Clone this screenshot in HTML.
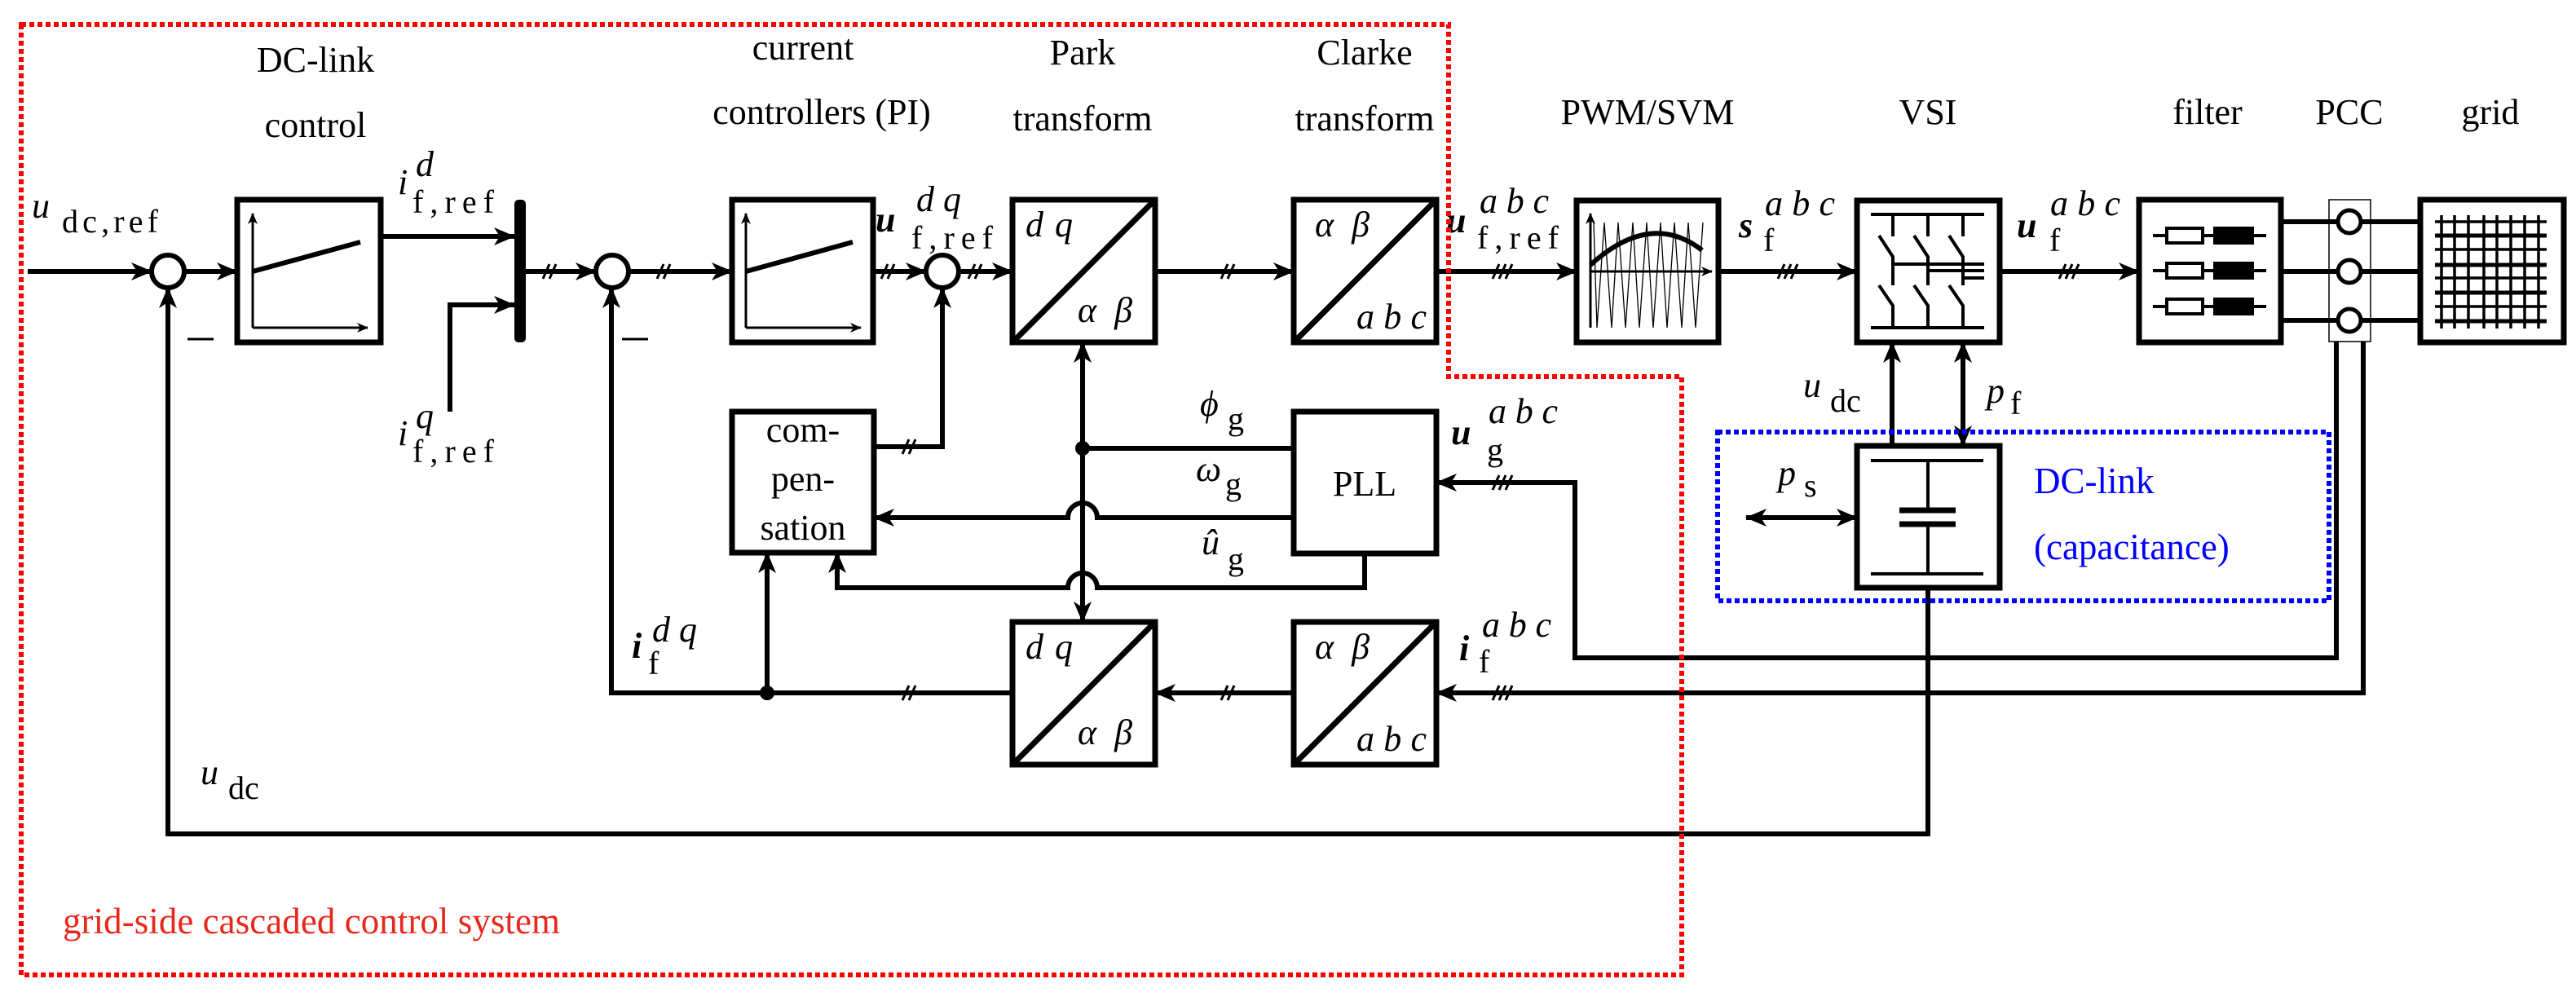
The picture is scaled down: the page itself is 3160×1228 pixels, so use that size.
<!DOCTYPE html>
<html><head><meta charset="utf-8"><style>
html,body{margin:0;padding:0;background:#fff;font-family:"Liberation Serif","DejaVu Serif",serif;}
svg{display:block;font-family:"Liberation Serif","DejaVu Serif",serif;}
svg text{font-family:"Liberation Serif","DejaVu Serif",serif;}
.t{font-size:44px;text-anchor:middle;}
.m{font-size:44px;font-style:italic;}
.mb{font-size:44px;font-style:italic;font-weight:bold;}
.s{font-size:40px;}
</style></head><body>
<svg width="3160" height="1228" viewBox="0 0 3160 1228" xmlns="http://www.w3.org/2000/svg" font-family="'Liberation Serif', 'DejaVu Serif', serif">
<defs>
<marker id="a" markerUnits="userSpaceOnUse" markerWidth="26" markerHeight="22" viewBox="0 0 26 22" refX="25" refY="11" orient="auto-start-reverse"><path d="M0,0 L26,11 L0,22 L7,11 z" fill="#000"/></marker>
<marker id="sa" markerUnits="userSpaceOnUse" markerWidth="14" markerHeight="12" viewBox="0 0 14 12" refX="13" refY="6" orient="auto"><path d="M0,0 L14,6 L0,12 L4,6 z" fill="#000"/></marker>
</defs>
<g fill="none" stroke="#000" stroke-width="6">
<path d="M34,333 H186" marker-end="url(#a)"/>
<circle cx="206" cy="333" r="20" fill="#fff"/>
<path d="M226,333 H291" marker-end="url(#a)"/>
<rect x="291" y="245" width="176" height="175" stroke-width="7"/>
<path d="M467,290 H631" marker-end="url(#a)"/>
<path d="M552,505 V374 H631" marker-end="url(#a)"/>
<path d="M645,333 H731" marker-end="url(#a)"/>
<circle cx="751" cy="333" r="20" fill="#fff"/>
<path d="M771,333 H898" marker-end="url(#a)"/>
<rect x="898" y="245" width="173" height="175" stroke-width="7"/>
<path d="M1071,333 H1136" marker-end="url(#a)"/>
<circle cx="1156" cy="333" r="20" fill="#fff"/>
<path d="M1176,333 H1242" marker-end="url(#a)"/>
<rect x="1242" y="245" width="175" height="175" stroke-width="7"/>
<path d="M1242,420 L1417,245" stroke-width="7"/>
<path d="M1417,333 H1587" marker-end="url(#a)"/>
<rect x="1587" y="245" width="175" height="175" stroke-width="7"/>
<path d="M1587,420 L1762,245" stroke-width="7"/>
<path d="M1762,333 H1934" marker-end="url(#a)"/>
<rect x="1934" y="246" width="174" height="174" stroke-width="7"/>
<path d="M2108,333 H2278" marker-end="url(#a)"/>
<rect x="2278" y="246" width="175" height="174" stroke-width="7"/>
<path d="M2453,333 H2624" marker-end="url(#a)"/>
<rect x="2624" y="245" width="174" height="175" stroke-width="7"/>
<path d="M2798,272 H2969 M2798,333 H2969 M2798,393 H2969"/>
<rect x="2969" y="245" width="176" height="175" stroke-width="7"/>

<rect x="898" y="505" width="174" height="173" stroke-width="7"/>
<path d="M1072,548 H1156 V353" marker-end="url(#a)"/>
<path d="M1328,550 V420" marker-end="url(#a)"/>
<path d="M1328,550 V763" marker-end="url(#a)"/>
<path d="M1587,550 H1328"/>
<path d="M1587,635 H1346 A18,18 0 0 0 1310,635 H1072" marker-end="url(#a)"/>
<path d="M1674,679 V721 H1346 A18,18 0 0 0 1310,721 H1027 V678" marker-end="url(#a)"/>
<rect x="1587" y="505" width="175" height="174" stroke-width="7"/>
<rect x="1242" y="763" width="175" height="175" stroke-width="7"/>
<path d="M1242,938 L1417,763" stroke-width="7"/>
<rect x="1587" y="763" width="175" height="175" stroke-width="7"/>
<path d="M1587,938 L1762,763" stroke-width="7"/>
<path d="M2899,419 V850 H1762" marker-end="url(#a)"/>
<path d="M1587,850 H1417" marker-end="url(#a)"/>
<path d="M1242,850 H750 V353" marker-end="url(#a)"/>
<path d="M941,850 V678" marker-end="url(#a)"/>
<path d="M2866,419 V807 H1932 V592 H1762" marker-end="url(#a)"/>
<path d="M2365,721 V1023 H206 V353" marker-end="url(#a)"/>
<rect x="2278" y="547" width="175" height="174" stroke-width="7"/>
<path d="M2321,547 V420" marker-end="url(#a)"/>
<path d="M2408,547 V420" marker-start="url(#a)" marker-end="url(#a)"/>
<path d="M2142,635 H2278" marker-start="url(#a)" marker-end="url(#a)"/>
</g>
<rect x="631" y="245" width="14" height="175" rx="5" fill="#000"/>
<circle cx="1328" cy="550" r="9" fill="#000"/>
<circle cx="941" cy="850" r="9" fill="#000"/>
<path d="M230,416 H262 M763,416 H795" stroke="#000" stroke-width="3"/>

<g stroke="#000" fill="none">
<path d="M310,402 V262" stroke-width="3" marker-end="url(#sa)"/>
<path d="M310,402 H451" stroke-width="3" marker-end="url(#sa)"/>
<path d="M310,333 L442,297" stroke-width="6"/>
<path d="M915,402 V262" stroke-width="3" marker-end="url(#sa)"/>
<path d="M915,402 H1056" stroke-width="3" marker-end="url(#sa)"/>
<path d="M915,333 L1046,297" stroke-width="6"/>
<path d="M1951,402 V262" stroke-width="3" marker-end="url(#sa)"/>
<path d="M1951,333 H2100" stroke-width="3" marker-end="url(#sa)"/>
<path d="M1955,273 L1959,402 L1968,273 L1977,402 L1985,273 L1994,402 L2003,273 L2011,402 L2020,273 L2028,402 L2037,273 L2045,402 L2054,273 L2063,402 L2071,273 L2080,402 L2089,273" stroke-width="1.3"/>
<path d="M1951,325 Q2025,258 2088,307" stroke-width="6"/>
<g stroke-width="4">
<path d="M2295,263 H2434 M2295,402 H2434"/>
<path d="M2322,263 V290 M2365,263 V290 M2408,263 V290"/>
<path d="M2305,289 L2322,315 V350 M2348,289 L2365,315 V350 M2391,289 L2408,315 V350"/>
<path d="M2305,350 L2322,375 V402 M2348,350 L2365,375 V402 M2391,350 L2408,375 V402"/>
<path d="M2322,324 H2434 M2365,332 H2434 M2408,341 H2434"/>
</g>
<g stroke-width="4">
<path d="M2641,289 H2780 M2641,332 H2780 M2641,376 H2780"/>
<rect x="2658" y="280" width="44" height="18" fill="#fff"/>
<rect x="2658" y="323" width="44" height="18" fill="#fff"/>
<rect x="2658" y="367" width="44" height="18" fill="#fff"/>
<rect x="2717" y="280" width="46" height="18" fill="#000"/>
<rect x="2717" y="323" width="46" height="18" fill="#000"/>
<rect x="2717" y="367" width="46" height="18" fill="#000"/>
</g>
<rect x="2857" y="245" width="51" height="174" stroke-width="1.5"/>
<circle cx="2882" cy="272" r="14" fill="#fff" stroke-width="5"/>
<circle cx="2882" cy="333" r="14" fill="#fff" stroke-width="5"/>
<circle cx="2882" cy="393" r="14" fill="#fff" stroke-width="5"/>
<path d="M2987,272 H3124 M2987,306 H3124 M2987,341 H3124 M2987,376 H3124" stroke-width="3.5"/>
<path d="M2987,289 H3124 M2987,325 H3124 M2987,359 H3124 M2987,394 H3124" stroke-width="5"/>
<path d="M2995,264 V403 M3011,264 V403 M3028,264 V403 M3047,264 V403 M3063,264 V403 M3080,264 V403 M3097,264 V403 M3114,264 V403" stroke-width="3.5"/>
<g stroke-width="4">
<path d="M2295,565 H2433 M2295,704 H2433 M2365,565 V626 M2365,643 V704"/>
</g>
<path d="M2330,626 H2399 M2330,643 H2399" stroke-width="7"/>
<g stroke-width="3">
<path d="M666,342 L674,324 M674,342 L682,324"/>
<path d="M806,342 L814,324 M814,342 L822,324"/>
<path d="M1081,342 L1089,324 M1089,342 L1097,324"/>
<path d="M1188,342 L1196,324 M1196,342 L1204,324"/>
<path d="M1498,342 L1506,324 M1506,342 L1514,324"/>
<path d="M1831,342 L1839,324 M1839,342 L1847,324 M1847,342 L1855,324"/>
<path d="M2181,342 L2189,324 M2189,342 L2197,324 M2197,342 L2205,324"/>
<path d="M2526,342 L2534,324 M2534,342 L2542,324 M2542,342 L2550,324"/>
<path d="M1107,557 L1115,539 M1115,557 L1123,539"/>
<path d="M1107,859 L1115,841 M1115,859 L1123,841"/>
<path d="M1498,859 L1506,841 M1506,859 L1514,841"/>
<path d="M1831,859 L1839,841 M1839,859 L1847,841 M1847,859 L1855,841"/>
<path d="M1831,601 L1839,583 M1839,601 L1847,583 M1847,601 L1855,583"/>
</g>
</g>

<g fill="#000">
<text x="387" y="88" class="t">DC-link</text>
<text x="387" y="168" class="t">control</text>
<text x="985" y="73" class="t">current</text>
<text x="1008" y="152" class="t">controllers (PI)</text>
<text x="1328" y="79" class="t">Park</text>
<text x="1328" y="160" class="t">transform</text>
<text x="1674" y="79" class="t">Clarke</text>
<text x="1674" y="160" class="t">transform</text>
<text x="2021" y="152" class="t">PWM/SVM</text>
<text x="2365" y="152" class="t">VSI</text>
<text x="2708" y="152" class="t">filter</text>
<text x="2882" y="152" class="t">PCC</text>
<text x="3055" y="152" class="t">grid</text>
<text x="985" y="542" class="t">com-</text>
<text x="985" y="602" class="t">pen-</text>
<text x="985" y="662" class="t">sation</text>
<text x="1674" y="608" class="t">PLL</text>
</g>

<g fill="#000">
<text x="39" y="267" class="m">u</text><text x="76" y="285" class="s" textLength="118">dc,ref</text>
<text x="488" y="238" class="m">i</text><text x="510" y="216" class="m">d</text><text x="506" y="261" class="s" textLength="100">f,ref</text>
<text x="488" y="546" class="m">i</text><text x="510" y="525" class="m">q</text><text x="506" y="567" class="s" textLength="100">f,ref</text>
<text x="1074" y="284" class="mb">u</text><text x="1124" y="259" class="m" textLength="55">dq</text><text x="1118" y="305" class="s" textLength="100">f,ref</text>
<text x="1774" y="285" class="mb">u</text><text x="1815" y="261" class="m" textLength="85">abc</text><text x="1812" y="305" class="s" textLength="100">f,ref</text>
<text x="2133" y="291" class="mb">s</text><text x="2165" y="264" class="m" textLength="86">abc</text><text x="2163" y="308" class="s">f</text>
<text x="2474" y="291" class="mb">u</text><text x="2515" y="264" class="m" textLength="86">abc</text><text x="2514" y="308" class="s">f</text>
<text x="1258" y="290" class="m" textLength="58">dq</text><text x="1322" y="395" class="m" textLength="67">αβ</text>
<text x="1613" y="290" class="m" textLength="67">αβ</text><text x="1664" y="403" class="m" textLength="86">abc</text>
<text x="1258" y="808" class="m" textLength="58">dq</text><text x="1322" y="913" class="m" textLength="67">αβ</text>
<text x="1613" y="808" class="m" textLength="67">αβ</text><text x="1664" y="921" class="m" textLength="86">abc</text>
<text x="1472" y="510" class="m">ϕ</text><text x="1506" y="527" class="s">g</text>
<text x="1467" y="590" class="m">ω</text><text x="1503" y="607" class="s">g</text>
<text x="1474" y="680" class="m">û</text><text x="1506" y="699" class="s">g</text>
<text x="1780" y="545" class="mb">u</text><text x="1826" y="519" class="m" textLength="85">abc</text><text x="1824" y="565" class="s">g</text>
<text x="1790" y="810" class="mb">i</text><text x="1818" y="781" class="m" textLength="85">abc</text><text x="1814" y="825" class="s">f</text>
<text x="775" y="807" class="mb">i</text><text x="800" y="787" class="m" textLength="55">dq</text><text x="795" y="827" class="s">f</text>
<text x="246" y="962" class="m">u</text><text x="280" y="980" class="s">dc</text>
<text x="2212" y="487" class="m">u</text><text x="2245" y="505" class="s">dc</text>
<text x="2437" y="494" class="m">p</text><text x="2466" y="508" class="s">f</text>
<text x="2181" y="595" class="m">p</text><text x="2213" y="609" class="s">s</text>
</g>
<text x="2495" y="605" fill="#0000ff" style="font-size:45px">DC-link</text>
<text x="2495" y="686" fill="#0000ff" style="font-size:45px">(capacitance)</text>
<text x="77" y="1145" fill="#e8281c" style="font-size:45px" textLength="610">grid-side cascaded control system</text>

<path d="M26,30 H1777 V462 H2063 V1196 H26 Z" fill="none" stroke="#ff0000" stroke-width="6" stroke-dasharray="6 4"/>
<rect x="2107" y="530" width="750" height="207" fill="none" stroke="#0000ff" stroke-width="6" stroke-dasharray="6 4"/>
</svg>
</body></html>
